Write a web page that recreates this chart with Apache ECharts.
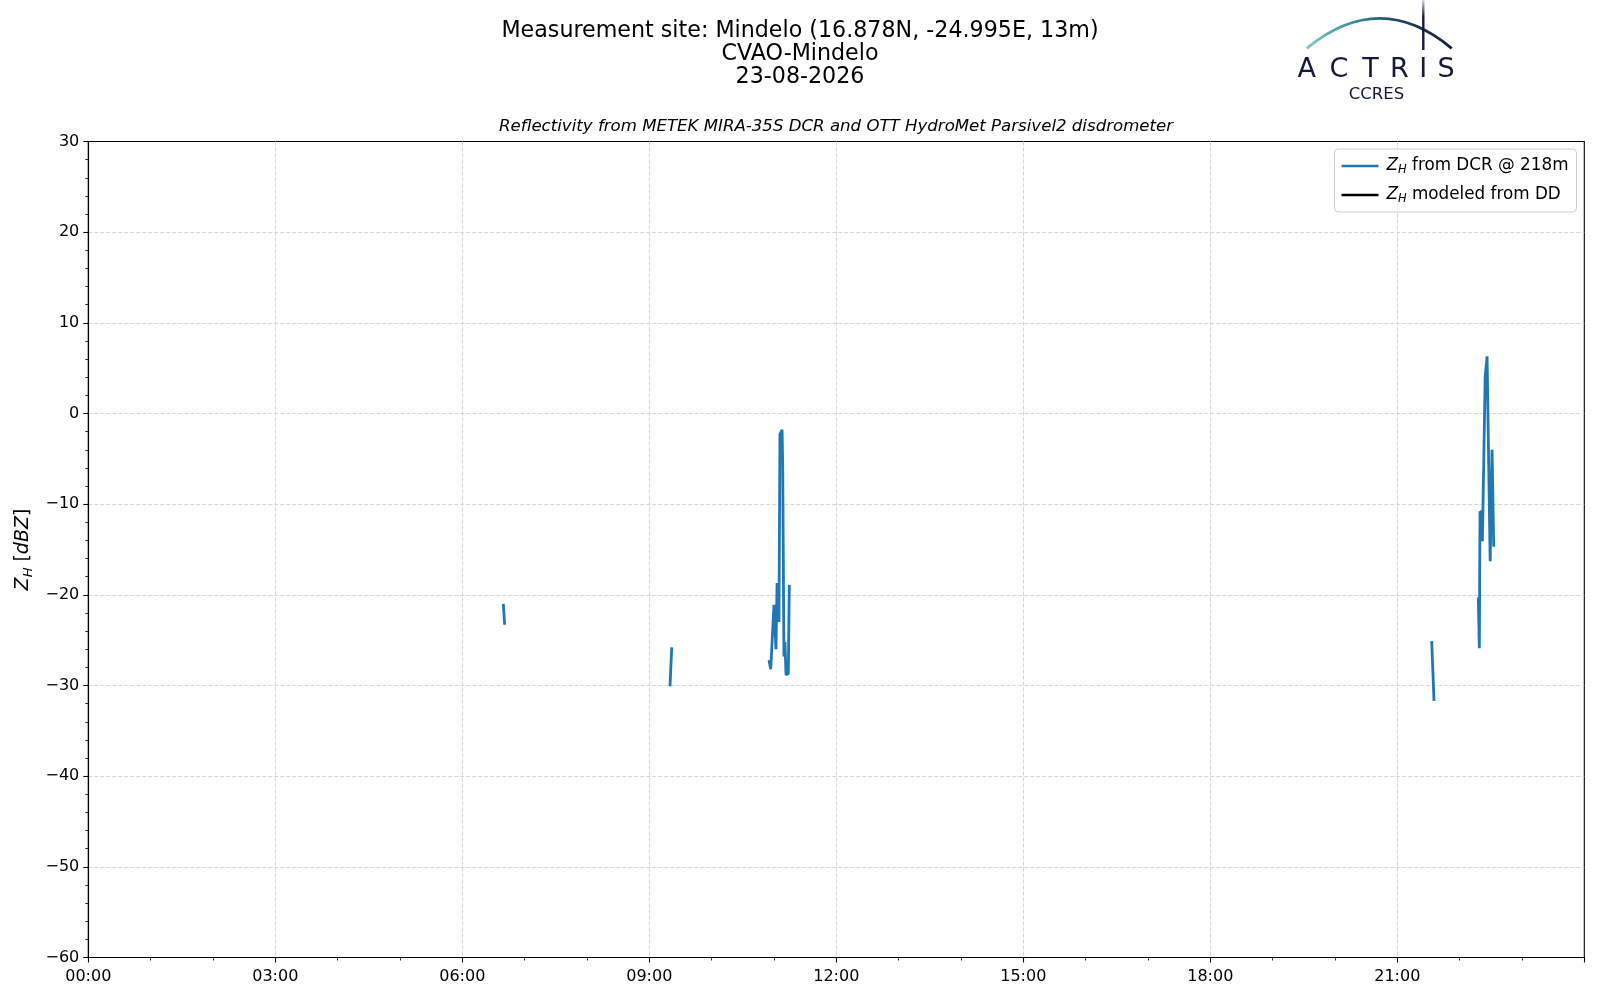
<!DOCTYPE html>
<html>
<head>
<meta charset="utf-8">
<script src="https://cdn.jsdelivr.net/npm/echarts@6/dist/echarts.min.js"></script>
<style>html,body{margin:0;padding:0;background:#fff}#c{width:1600px;height:1000px}</style>
</head>
<body>
<div id="c"></div>
<script>
// Time in decimal hours (UTC), reflectivity in dBZ; null separates gaps
const dcrTimes = [6.658, 6.680, 6.69,
  9.332, 9.360, 9.37,
  10.920, 10.948, 11.000, 11.016, 11.032, 11.050, 11.070, 11.080, 11.096, 11.130, 11.140, 11.160, 11.177, 11.193, 11.230, 11.246, 11.26,
  21.552, 21.589, 21.60,
  22.300, 22.316, 22.327, 22.360, 22.365, 22.410, 22.440, 22.466, 22.490, 22.520, 22.547];
const dcrValues = [-21.0, -23.3, null,
  -30.1, -25.8, null,
  -27.2, -28.2, -21.1, -20.9, -26.0, -18.7, -18.5, -23.0, -2.3, -1.8, -5.5, -26.8, -25.2, -28.8, -28.7, -18.9, null,
  -25.1, -31.7, null,
  -20.3, -25.9, -10.8, -10.9, -14.1, 4.1, 6.3, 6.2, -16.3, -4.0, -14.7];
const ddTimes = [];
const ddValues = [];
const xTickHours = [0, 3, 6, 9, 12, 15, 18, 21];
const yTicks = [-60, -50, -40, -30, -20, -10, 0, 10, 20, 30];

const titleLines = ['Measurement site: Mindelo (16.878N, -24.995E, 13m)', 'CVAO-Mindelo', '23-08-2026'];
const subtitle = 'Reflectivity from METEK MIRA-35S DCR and OTT HydroMet Parsivel2 disdrometer';

const F = 'DejaVu Sans';
const navy = '#141a3a';
const chart = echarts.init(document.getElementById('c'), null, {renderer: 'canvas'});
const pair = (t, v) => t.map((x, i) => [x, v[i]]);
const pad2 = n => (n < 10 ? '0' : '') + n;

const option = {
  animation: false,
  backgroundColor: '#ffffff',
  title: [
    {text: titleLines.join('\n'), left: 795, top: 15, textAlign: 'center',
     textStyle: {fontFamily: F, fontSize: 22.2, fontWeight: 'normal', color: '#000', lineHeight: 22.9}},
    {text: subtitle, left: 831, top: 113, textAlign: 'center',
     textStyle: {fontFamily: F, fontSize: 16.6, fontStyle: 'italic', fontWeight: 'normal', color: '#000'}}
  ],
  grid: {left: 88.3, right: 15.7, top: 141.5, bottom: 42.5, show: true, borderColor: '#000', borderWidth: 1.1, backgroundColor: 'transparent', containLabel: false},
  legend: {
    orient: 'vertical', right: 23.5, top: 149,
    backgroundColor: 'rgba(255,255,255,0.8)', borderColor: '#d0d0d0', borderWidth: 1, borderRadius: 4,
    padding: [7, 8, 7, 7], itemGap: 9, itemWidth: 37, itemHeight: 2.6, icon: 'rect',
    data: ['dcr', 'dd'],
    formatter: n => n === 'dcr' ? '{z|Z}{h|H}{t| from DCR @ 218m}' : '{z|Z}{h|H}{t| modeled from DD}',
    textStyle: {fontFamily: F, fontSize: 16.8, color: '#000', lineHeight: 20, padding: [0, 0, 0, 3],
      rich: {
        z: {fontFamily: F, fontSize: 16.8, fontStyle: 'italic', color: '#000', lineHeight: 20},
        h: {fontFamily: F, fontSize: 11.5, fontStyle: 'italic', color: '#000', verticalAlign: 'bottom', lineHeight: 14},
        t: {fontFamily: F, fontSize: 16.8, color: '#000', lineHeight: 20}
      }}
  },
  xAxis: {
    type: 'value', min: 0, max: 24, interval: 3,
    axisLine: {show: true, onZero: false, lineStyle: {color: '#000', width: 1.1}},
    axisTick: {show: true, length: 5, lineStyle: {color: '#000', width: 1.1}},
    minorTick: {show: true, splitNumber: 3, length: 3, lineStyle: {color: '#000', width: 0.8}},
    axisLabel: {fontFamily: F, fontSize: 16, color: '#000', margin: 11,
      formatter: v => xTickHours.indexOf(Math.round(v)) >= 0 && v < 24 ? pad2(Math.round(v)) + ':00' : ''},
    splitLine: {show: true, showMinLine: false, showMaxLine: false, lineStyle: {color: '#d6d6d6', width: 1, type: [4, 2]}}
  },
  yAxis: {
    type: 'value', min: -60, max: 30, interval: 10,
    axisLine: {show: true, onZero: false, lineStyle: {color: '#000', width: 1.1}},
    axisTick: {show: true, length: 5, lineStyle: {color: '#000', width: 1.1}},
    minorTick: {show: true, splitNumber: 5, length: 3, lineStyle: {color: '#000', width: 0.8}},
    axisLabel: {fontFamily: F, fontSize: 16, color: '#000', margin: 9,
      formatter: v => yTicks.indexOf(v) >= 0 ? String(v).replace('-', '\u2212') : ''},
    splitLine: {show: true, showMinLine: false, showMaxLine: false, lineStyle: {color: '#d6d6d6', width: 1, type: [4, 2]}},
    name: '{z|Z}{h|H}{t| [}{z|dBZ}{t|]}', nameLocation: 'middle', nameGap: 50, nameRotate: 90,
    nameTextStyle: {fontFamily: F, fontSize: 19, color: '#000',
      rich: {
        z: {fontFamily: F, fontSize: 19, fontStyle: 'italic', color: '#000', lineHeight: 24},
        h: {fontFamily: F, fontSize: 13, fontStyle: 'italic', color: '#000', verticalAlign: 'bottom', lineHeight: 17},
        t: {fontFamily: F, fontSize: 19, color: '#000', lineHeight: 24}
      }}
  },
  series: [
    {name: 'dcr', type: 'line', data: pair(dcrTimes, dcrValues), showSymbol: false, symbol: 'none',
     connectNulls: false, color: '#1f77b4', lineStyle: {width: 2.8, color: '#1f77b4'}, z: 3},
    {name: 'dd', type: 'line', data: pair(ddTimes, ddValues), showSymbol: false, symbol: 'none',
     color: '#000000', lineStyle: {width: 2.8, color: '#000'}}
  ],
  graphic: [
    {type: 'bezierCurve', shape: {x1: 1306.7, y1: 48.3, x2: 1451.7, y2: 48.3, cpx1: 1380, cpy1: -11.5},
     style: {fill: null, lineWidth: 2.8,
       stroke: new echarts.graphic.LinearGradient(0, 0, 1, 0, [
         {offset: 0, color: '#86ccc8'}, {offset: 0.35, color: '#2f8d98'}, {offset: 0.6, color: '#1d4a63'}, {offset: 1, color: navy}])}},
    {type: 'line', shape: {x1: 1423.3, y1: 0, x2: 1423.3, y2: 50},
     style: {lineWidth: 2.4, stroke: new echarts.graphic.LinearGradient(0, 0, 0, 1, [
       {offset: 0, color: 'rgba(20,26,58,0.05)'}, {offset: 0.35, color: navy}, {offset: 1, color: navy}])}},
    ...['A', 'C', 'T', 'R', 'I', 'S'].map((ch, i) => ({
      type: 'text', x: [1306.7, 1339, 1370.5, 1399.5, 1423.3, 1446][i], y: 83,
      style: {text: ch, fontFamily: 'DejaVu Sans', fontSize: 27, fill: navy, align: 'center', verticalAlign: 'bottom'}
    })),
    {type: 'text', x: 1376.5, y: 103, style: {text: 'CCRES', fontFamily: 'DejaVu Sans', fontSize: 16.5, fill: navy, align: 'center', verticalAlign: 'bottom'}}
  ]
};
chart.setOption(option);
</script>
</body>
</html>
